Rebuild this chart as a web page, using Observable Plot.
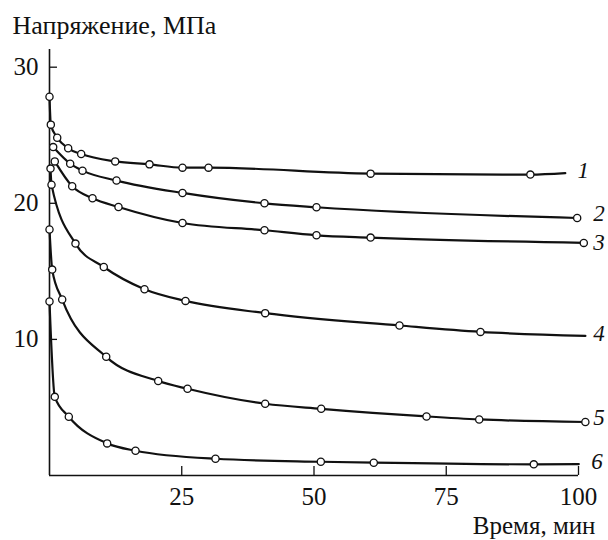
<!DOCTYPE html>
<html>
<head>
<meta charset="utf-8">
<script src="https://cdn.jsdelivr.net/npm/d3@7"></script>
<script src="https://cdn.jsdelivr.net/npm/@observablehq/plot@0.6"></script>
<style>
  html, body { margin: 0; padding: 0; background: #fff; }
  #chart svg text { font-family: 'Liberation Serif', 'Times New Roman', serif !important; }
</style>
</head>
<body>
<div id="chart"></div>
<script>
// ---- Data ----
const yTitle = "Напряжение, МПа";
const xTitle = "Время, мин";
const xTicks = [25, 50, 75, 100];
const yTicks = [10, 20, 30];
const curveNames = ["1", "2", "3", "4", "5", "6"];

// measured points (open circles): time, min / stress, MPa
const t1 = [0, 0.25, 1.46, 3.53, 5.99, 12.42, 18.9, 25.14, 30.06, 60.7, 90.9];
const s1 = [27.83, 25.78, 24.82, 24.04, 23.62, 23.08, 22.86, 22.62, 22.62, 22.18, 22.11];
const t2 = [0.7, 3.91, 6.24, 12.67, 25.14, 40.64, 50.47, 99.75];
const s2 = [24.13, 22.91, 22.4, 21.67, 20.76, 20.0, 19.71, 18.92];
const t3 = [1.0, 4.29, 8.13, 13.04, 25.14, 40.64, 50.47, 60.7, 101.0];
const s3 = [23.08, 21.25, 20.37, 19.73, 18.55, 18.02, 17.65, 17.48, 17.09];
const t4 = [0.19, 0.38, 4.91, 10.26, 17.96, 25.71, 40.77, 66.16, 81.47];
const s4 = [22.55, 21.37, 17.04, 15.32, 13.69, 12.83, 11.93, 11.02, 10.55];
const t5 = [0, 0.51, 2.4, 10.72, 20.55, 26.09, 40.77, 51.36, 71.27, 81.23, 101.3];
const s5 = [18.07, 15.13, 12.93, 8.72, 6.94, 6.37, 5.27, 4.9, 4.34, 4.12, 3.93];
const t6 = [0, 1.0, 3.65, 10.9, 16.26, 31.38, 51.29, 61.3, 91.55];
const s6 = [12.79, 5.78, 4.32, 2.36, 1.82, 1.23, 1.01, 0.94, 0.82];

// where a drawn curve continues past its last circle
const tailT = [97.5, null, null, 101.3, null, 100.06];
const tailS = [22.22, null, null, 10.26, null, 0.84];

// curve number labels (position in data units)
const labelT = [99.8, 102.8, 102.8, 102.8, 102.8, 102.4];
const labelS = [22.39, 19.27, 17.1, 10.39, 4.22, 1.03];

// ---- Build tables ----
const T = [t1, t2, t3, t4, t5, t6];
const S = [s1, s2, s3, s4, s5, s6];
const pointRows = [];
const lineRows = [];
curveNames.forEach((name, k) => {
  T[k].forEach((t, i) => {
    pointRows.push({curve: name, t, s: S[k][i]});
    lineRows.push({curve: name, t, s: S[k][i]});
  });
  if (tailT[k] != null) lineRows.push({curve: name, t: tailT[k], s: tailS[k]});
});
const labelRows = curveNames.map((name, k) => ({name, t: labelT[k], s: labelS[k]}));

const INK = "#111";
const FONT = "Liberation Serif";

const svg = Plot.plot({
  width: 608,
  height: 540,
  marginLeft: 49,
  marginRight: 30,
  marginTop: 49,
  marginBottom: 65,
  style: {fontFamily: FONT, fontSize: "25px", color: INK, background: "#fff"},
  x: {domain: [0, 100]},
  y: {domain: [0, 31.3]},
  marks: [
    Plot.axisX({ticks: xTicks, tickSize: -9, tickPadding: 20.5, label: null, fontSize: 25, fontFamily: FONT, stroke: INK, fill: INK, strokeWidth: 1.3}),
    Plot.axisY({ticks: yTicks, tickSize: -8, tickPadding: 19, label: null, fontSize: 25, fontFamily: FONT, stroke: INK, fill: INK, strokeWidth: 1.3}),
    Plot.ruleX([0], {stroke: INK, strokeWidth: 1.6}),
    Plot.ruleY([0], {stroke: INK, strokeWidth: 1.6}),
    Plot.line(lineRows, {x: "t", y: "s", z: "curve", curve: "monotone-x", stroke: INK, strokeWidth: 2.2}),
    Plot.dot(pointRows, {x: "t", y: "s", r: 3.6, fill: "#fff", stroke: INK, strokeWidth: 1.3}),
    Plot.text(labelRows, {x: "t", y: "s", text: "name", textAnchor: "start", fontStyle: "italic", fontSize: 23, fontFamily: FONT, fill: INK}),
    Plot.text([yTitle], {frameAnchor: "top-left", dx: -37, dy: -16, textAnchor: "start", lineAnchor: "bottom", fontSize: 26, fontFamily: FONT, fill: INK}),
    Plot.text([xTitle], {frameAnchor: "bottom-right", dx: 17, dy: 58, textAnchor: "end", lineAnchor: "bottom", fontSize: 25, fontFamily: FONT, fill: INK})
  ]
});
svg.setAttribute("font-family", FONT);
svg.querySelectorAll("text, g").forEach(el => {
  el.setAttribute("font-family", FONT);
  el.style.setProperty("font-family", "'Liberation Serif', 'Times New Roman', serif", "important");
});
document.getElementById("chart").appendChild(svg);
</script>
</body>
</html>
